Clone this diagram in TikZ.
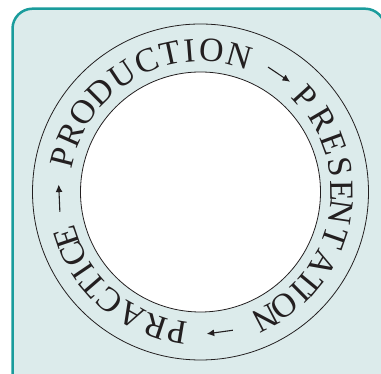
\documentclass[tikz,border=0pt]{standalone}
\usepackage{fontspec}
\setmainfont{Liberation Serif}
\usetikzlibrary{arrows.meta}
\definecolor{frame}{HTML}{1A9C9C}
\definecolor{panel}{HTML}{DCEBEB}
\definecolor{ink}{HTML}{231F20}
\begin{document}
\begin{tikzpicture}[x=1pt,y=1pt,
  letter/.style={anchor=base, inner sep=0pt, text=ink, font=\fontsize{34}{34}\selectfont},
  ringline/.style={draw=ink, line width=0.8pt},
  flow/.style={draw=ink, line width=1.1pt, -{Latex[length=7.5pt,width=7pt]}}]
\useasboundingbox (0,0) rectangle (381,374);
\begin{scope}
  \clip (0,0) rectangle (381,374);
  \draw[frame, fill=panel, line width=2.5pt, rounded corners=20pt] (12.5,-30) rectangle (385,365.3);
\end{scope}
\coordinate (O) at (200.5,182);
\draw[ringline] (O) circle[radius=168];
\draw[ringline, fill=white] (O) circle[radius=120];
% PRODUCTION
\foreach \ch/\a [count=\i] in {P/165.8, R/156.2, O/145.6, D/134.9, U/123.6, C/112.1, T/102.2, I/94.5, O/85.6, N/74.2}
  \node[letter, rotate=\a-90] (pa\i) at ([shift={(\a:130.5)}]O) {\ch};
% PRESENTATION
\foreach \ch/\a [count=\i] in {P/42.2, R/30.5, E/20.2, S/10.1, E/0.6, N/-8.2, T/-19.1, A/-30.4, T/-39.6, I/-45.3, O/-53.7, N/-62.5}
  \node[letter, rotate=\a-90] (pb\i) at ([shift={(\a:130.5)}]O) {\ch};
% PRACTICE
\foreach \ch/\a [count=\i] in {P/-99.5, R/-108.5, A/-119.2, C/-130, T/-139.1, I/-146, C/-154, E/-161.3}
  \node[letter, rotate=\a-90] (pc\i) at ([shift={(\a:130.5)}]O) {\ch};
% arrows
\coordinate (t1) at ([shift={(61.6:142)}]O);
\coordinate (h1) at ([shift={(50.9:142)}]O);
\coordinate (t2) at ([shift={(-76.8:142)}]O);
\coordinate (h2) at ([shift={(-87.5:142)}]O);
\coordinate (t3) at ([shift={(188:142)}]O);
\coordinate (h3) at ([shift={(177:142)}]O);
\draw[flow] (t1) -- (h1);
\draw[flow] (t2) -- (h2);
\draw[flow] (t3) -- (h3);
\end{tikzpicture}
\end{document}
